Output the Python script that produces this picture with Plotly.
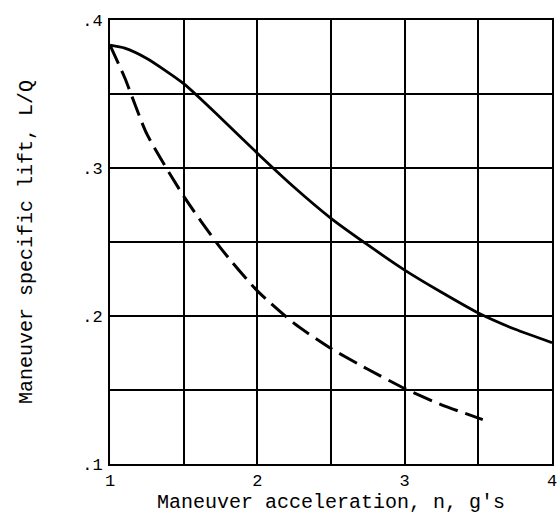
import plotly.graph_objects as go

solid_x = [1.0, 1.1, 1.25, 1.5, 1.75, 2.0, 2.25, 2.5, 2.75, 3.0, 3.25, 3.5, 3.75, 4.0]
solid_y = [0.383, 0.381, 0.374, 0.357, 0.334, 0.310, 0.287, 0.266, 0.248, 0.231, 0.216, 0.202, 0.191, 0.182]

dash_x = [1.0, 1.1, 1.25, 1.5, 1.75, 2.0, 2.25, 2.5, 2.75, 3.0, 3.25, 3.53]
dash_y = [0.383, 0.361, 0.323, 0.281, 0.246, 0.217, 0.195, 0.178, 0.164, 0.151, 0.140, 0.130]

x_ticks = [1, 1.5, 2, 2.5, 3, 3.5, 4]
x_labels = ["1", "", "2", "", "3", "", "4"]
y_ticks = [0.1, 0.15, 0.2, 0.25, 0.3, 0.35, 0.4]
y_labels = [".1", "", ".2", "", ".3", "", ".4"]

font = "Courier New, Liberation Mono, monospace"

fig = go.Figure()
fig.add_trace(go.Scatter(x=solid_x, y=solid_y, mode="lines",
                         line=dict(color="black", width=2.8, shape="spline", smoothing=0.6),
                         showlegend=False, hoverinfo="skip"))
fig.add_trace(go.Scatter(x=dash_x, y=dash_y, mode="lines",
                         line=dict(color="black", width=3, shape="spline", smoothing=0.6,
                                   dash="20px,8px"),
                         showlegend=False, hoverinfo="skip"))

fig.update_layout(
    width=560, height=519,
    margin=dict(l=110, r=3, t=20, b=55),
    paper_bgcolor="white", plot_bgcolor="white",
    font=dict(family=font, size=17, color="black"),
)
fig.update_xaxes(
    range=[1, 4], tickvals=x_ticks, ticktext=x_labels,
    showgrid=True, gridcolor="black", gridwidth=1.5,
    showline=True, linecolor="black", linewidth=2, mirror=True,
    ticks="", zeroline=False, ticklabeloverflow="allow",
    title=dict(text="Maneuver acceleration, n, g's", font=dict(family=font, size=20), standoff=4),
)
fig.update_yaxes(
    range=[0.1, 0.4], tickvals=y_ticks, ticktext=y_labels,
    showgrid=True, gridcolor="black", gridwidth=1.5,
    showline=True, linecolor="black", linewidth=2, mirror=True,
    ticks="", zeroline=False, ticklabelstandoff=2,
    title=dict(text="Maneuver specific lift, L/Q", font=dict(family=font, size=20), standoff=44),
)

fig.write_html("out.html")
